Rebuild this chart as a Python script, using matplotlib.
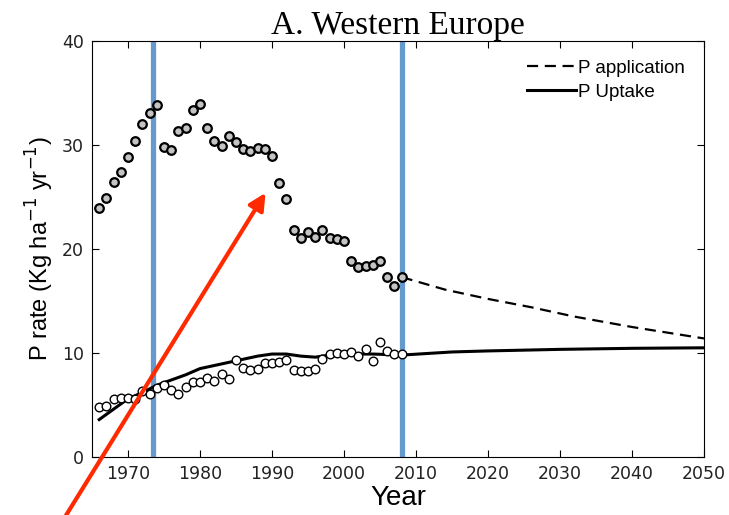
import matplotlib.pyplot as plt

years = list(range(1966, 2009))

# P application, observed (grey dots)
p_app_obs = [23.9, 24.9, 26.4, 27.4, 28.8, 30.4, 32.0, 33.1, 33.8, 29.8,
             29.5, 31.3, 31.6, 33.4, 33.9, 31.6, 30.4, 29.9, 30.9, 30.3,
             29.6, 29.4, 29.7, 29.6, 28.9, 26.3, 24.8, 21.8, 21.1, 21.6,
             21.2, 21.8, 21.1, 21.0, 20.8, 18.8, 18.3, 18.4, 18.5, 18.8,
             17.3, 16.4, 17.3]

# P uptake, observed (open circles)
p_upt_obs = [4.8, 4.9, 5.6, 5.7, 5.7, 5.6, 6.3, 6.1, 6.6, 6.9,
             6.4, 6.1, 6.7, 7.2, 7.2, 7.6, 7.3, 8.0, 7.5, 9.3,
             8.6, 8.4, 8.5, 9.0, 9.0, 9.1, 9.3, 8.4, 8.3, 8.3,
             8.5, 9.4, 9.9, 10.0, 9.9, 10.1, 9.7, 10.4, 9.2, 11.1,
             10.2, 9.9, 9.9]

# P application projection (dashed)
proj_years = [2008, 2014, 2020, 2026, 2032, 2040, 2050]
p_app_proj = [17.3, 16.1, 15.2, 14.4, 13.5, 12.5, 11.4]

# P uptake model (solid)
upt_years = [1966, 1968, 1970, 1972, 1974, 1976, 1978, 1980, 1982, 1984,
             1986, 1988, 1990, 1992, 1994, 1996, 1998, 2000, 2004, 2008,
             2015, 2020, 2030, 2040, 2050]
p_upt_model = [3.6, 4.6, 5.6, 6.2, 6.9, 7.4, 7.9, 8.5, 8.8, 9.1,
               9.4, 9.7, 9.9, 9.9, 9.7, 9.6, 9.8, 9.9, 9.9, 9.8,
               10.1, 10.2, 10.35, 10.45, 10.5]

marker_years = [1973.5, 2008]

fig = plt.figure(figsize=(7.29, 5.15), dpi=100)
ax = fig.add_axes([92 / 729, 1 - 457 / 515, 612 / 729, 416 / 515])

for yr in marker_years:
    ax.axvline(yr, color='#6699cc', lw=3.8, zorder=1)

ax.plot(proj_years, p_app_proj, 'k--', lw=1.6, dashes=(5, 3), label='P application', zorder=2)
ax.plot(upt_years, p_upt_model, 'k-', lw=2.2, label='P Uptake', zorder=2)
ax.plot(years, p_app_obs, 'o', ms=6.2, mfc='#c4c4c4', mec='black', mew=1.6, zorder=3)
ax.plot(years, p_upt_obs, 'o', ms=6.2, mfc='white', mec='black', mew=1.0, zorder=3)

ax.set_xlim(1965, 2050)
ax.set_ylim(0, 40)
ax.set_xticks(range(1970, 2051, 10))
ax.set_yticks(range(0, 41, 10))
ax.tick_params(direction='in', top=True, right=True, labelsize=12.5, length=5, pad=6,
               labelcolor='#222222')

ax.set_xlabel('Year', fontsize=20, family='Liberation Sans', labelpad=1)
ax.set_ylabel('P rate (Kg ha$^{-1}$ yr$^{-1}$)', fontsize=17, family='Liberation Sans', labelpad=4)
ax.set_title('A. Western Europe', fontsize=24, family='Liberation Serif', pad=5)

leg = ax.legend(loc='upper right', frameon=False, fontsize=13.5, handlelength=2.6,
                handletextpad=0.15, borderaxespad=0.6, labelspacing=0.35,
                bbox_to_anchor=(1.0, 1.0))
for t in leg.get_texts():
    t.set_family('Liberation Sans')

ax.annotate('', xy=(1989.1, 25.4), xytext=(1961.4, -5.6), xycoords='data',
            annotation_clip=False,
            arrowprops=dict(arrowstyle='-|>,head_length=1.0,head_width=0.5',
                            color='#ff2a00', lw=3.0, shrinkA=0, shrinkB=0),
            zorder=5)

fig.savefig('out.png', dpi=100)
